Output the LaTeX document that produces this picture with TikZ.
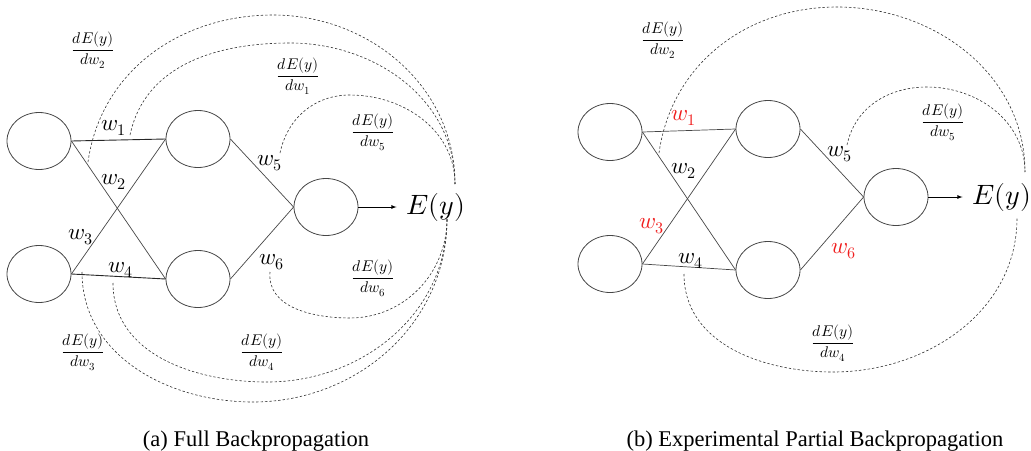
\documentclass[tikz,border=0pt]{standalone}
\usepackage{amsmath}
\usepackage{fontspec}
\usepackage{unicode-math}
\setmathfont{Latin Modern Math}
\newfontfamily\capfont{Liberation Serif}
\usetikzlibrary{shapes.geometric}
\definecolor{wred}{RGB}{240,30,30}
\definecolor{edge}{RGB}{70,70,70}
\begin{document}
\begin{tikzpicture}[x=1pt,y=-1pt,
  neuron/.style={draw=edge,line width=0.8pt,ellipse,minimum width=64pt,minimum height=57pt,inner sep=0pt},
  conn/.style={draw=edge,line width=0.7pt},
  hconn/.style={draw=black!85,line width=0.9pt},
  grad/.style={draw=black!80,dash pattern=on 2.4pt off 2pt,line width=0.6pt},
  wlab/.style={font=\fontsize{23}{23}\selectfont,inner sep=0pt},
  frac/.style={font=\fontsize{15.5}{15.5}\selectfont,inner sep=0pt},
  outlab/.style={font=\fontsize{28}{28}\selectfont,inner sep=0pt},
  outarrow/.style={-latex,line width=0.8pt,shorten >=10pt},
  caplab/.style={font=\capfont\fontsize{22.5}{22.5}\selectfont,inner sep=0pt,anchor=base}]
\useasboundingbox (0,0) rectangle (1031,450);
% ---------------- (a) ----------------
\node[neuron] (a1) at (39,141) {};
\node[neuron] (a2) at (39,274) {};
\node[neuron] (h1) at (198,139) {};
\node[neuron] (h2) at (198,279) {};
\node[neuron] (o)  at (326,207) {};
\node[outlab] (E) at (436,207) {$E(y)$};
\draw[hconn] (a1.east) -- (h1.west);
\draw[conn] (a1.east) -- (h2.west);
\draw[conn] (a2.east) -- (h1.west);
\draw[hconn] (a2.east) -- (h2.west);
\draw[conn] (h1.east) -- (o.west);
\draw[conn] (h2.east) -- (o.west);
\draw[outarrow] (o.east) -- (E.west);
\node[wlab] (lw1) at (114,128) {$w_1$};
\node[wlab] (lw2) at (114,182) {$w_2$};
\node[wlab] (lw3) at (81,237) {$w_3$};
\node[wlab] (lw4) at (121,270) {$w_4$};
\node[wlab] (lw5) at (270,163) {$w_5$};
\node[wlab] (lw6) at (272,262) {$w_6$};
\node[frac] at (93,50) {$\dfrac{dE(y)}{dw_2}$};
\node[frac] at (298,76) {$\dfrac{dE(y)}{dw_1}$};
\node[frac] at (373,132) {$\dfrac{dE(y)}{dw_5}$};
\node[frac] at (373,278) {$\dfrac{dE(y)}{dw_6}$};
\node[frac] at (83,352) {$\dfrac{dE(y)}{dw_3}$};
\node[frac] at (262,352) {$\dfrac{dE(y)}{dw_4}$};
\coordinate (s2) at (88,162);
\coordinate (s1) at (130,135);
\coordinate (s5) at (280,153);
\coordinate (s6) at (270,272);
\coordinate (s4) at (113,283);
\coordinate (s3) at (82,272);
\coordinate (et) at (455,184);
\coordinate (eb) at (447,219);
\draw[grad] (s2) to[out=82,in=180] (273,15) to[out=0,in=90] (et);
\draw[grad] (s1) to[out=78,in=180] (290,43) to[out=0,in=90] (et);
\draw[grad] (s5) to[out=78,in=180] (350,95) to[out=0,in=90] (et);
\draw[grad] (s6) to[out=-95,in=180] (350,318) to[out=0,in=-90] (eb);
\draw[grad] (s4) to[out=-90,in=180] (267,382) to[out=0,in=-90] (eb);
\draw[grad] (s3) to[out=-90,in=180] (253,402) to[out=0,in=-90] (eb);
\node[caplab] (capa) at (256,446) {(a) Full Backpropagation};
% ---------------- (b) ----------------
\node[neuron] (b1) at (610,132) {};
\node[neuron] (b2) at (610,264) {};
\node[neuron] (g1) at (768,129) {};
\node[neuron] (g2) at (768,270) {};
\node[neuron] (p)  at (896,197) {};
\node[outlab] (F) at (1002,197) {$E(y)$};
\draw[conn] (b1.east) -- (g1.west);
\draw[conn] (b1.east) -- (g2.west);
\draw[conn] (b2.east) -- (g1.west);
\draw[conn] (b2.east) -- (g2.west);
\draw[conn] (g1.east) -- (p.west);
\draw[conn] (g2.east) -- (p.west);
\draw[outarrow] (p.east) -- (F.west);
\node[wlab,text=wred] (mw1) at (684,118) {$w_1$};
\node[wlab] (mw2) at (684,171) {$w_2$};
\node[wlab,text=wred] (mw3) at (652,226) {$w_3$};
\node[wlab] (mw4) at (691,261) {$w_4$};
\node[wlab] (mw5) at (840,154) {$w_5$};
\node[wlab,text=wred] (mw6) at (844,251) {$w_6$};
\node[frac] at (663,40) {$\dfrac{dE(y)}{dw_2}$};
\node[frac] at (943,122) {$\dfrac{dE(y)}{dw_5}$};
\node[frac] at (833,343) {$\dfrac{dE(y)}{dw_4}$};
\coordinate (t2) at (659,153);
\coordinate (t5) at (847,145);
\coordinate (t4) at (684,274);
\coordinate (ft) at (1025,172);
\coordinate (fb) at (1017,218);
\draw[grad] (t2) to[out=82,in=180] (837,7) to[out=0,in=90] (ft);
\draw[grad] (t5) to[out=78,in=180] (927,87) to[out=0,in=90] (ft);
\draw[grad] (t4) to[out=-90,in=180] (833,372) to[out=0,in=-90] (fb);
\node[caplab] (capb) at (815,446) {(b) Experimental Partial Backpropagation};
\end{tikzpicture}
\end{document}
